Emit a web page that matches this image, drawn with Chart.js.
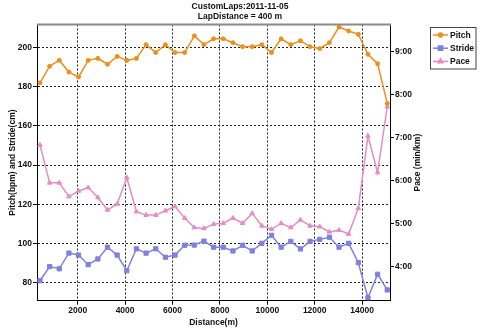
<!DOCTYPE html>
<html>
<head>
<meta charset="utf-8">
<script src="https://cdn.jsdelivr.net/npm/chart.js@4.4.1/dist/chart.umd.min.js"></script>
<style>
  html, body { margin: 0; padding: 0; background: #fff; }
  #wrap { width: 480px; height: 329px; }
</style>
</head>
<body>
<div id="wrap"><canvas id="lapChart" width="480" height="329"></canvas></div>
<script>
// lap end distance (m) and per-lap averages
const distances = [409, 816, 1223, 1630, 2037, 2444, 2851, 3258, 3665, 4072,
  4479, 4886, 5293, 5700, 6107, 6514, 6921, 7328, 7735, 8142,
  8549, 8956, 9363, 9770, 10177, 10584, 10991, 11398, 11805, 12212,
  12619, 13026, 13433, 13840, 14247, 14654, 15061];
// steps per minute
const pitch = [182, 190.5, 193.5, 187.5, 185, 193.5, 194.5, 191.5, 195.5, 193.5,
  194.5, 201.5, 197.5, 201.5, 197.5, 197.5, 206, 201.5, 204.5, 204.5,
  202.5, 200.5, 200.5, 201.5, 197.5, 204.5, 201.5, 203.5, 200.5, 199.5,
  202.5, 210.5, 208.5, 206.8, 196.6, 191.8, 171.5];
// stride length, cm
const stride = [81, 88.2, 87.1, 95.1, 94.1, 89.2, 92.1, 98.1, 94.1, 86.1,
  97.3, 95.1, 97.3, 93, 94.1, 99.1, 99.2, 101.2, 98.1, 98.1,
  96.2, 99.1, 96.2, 100.1, 104.2, 98.1, 101.1, 97.2, 101.1, 102.1,
  103.2, 98.1, 100.1, 90.2, 72.3, 84.3, 76.3];
// pace, min/km (decimal minutes)
const pace = [6.83, 5.95, 5.95, 5.63, 5.76, 5.84, 5.61, 5.32, 5.46, 6.07,
  5.28, 5.20, 5.20, 5.30, 5.40, 5.13, 4.91, 4.89, 4.99, 5.01,
  5.13, 5.01, 5.24, 4.95, 4.87, 5.01, 4.91, 5.09, 4.95, 4.93,
  4.81, 4.85, 4.76, 5.36, 7.04, 6.19, 7.72];

const distanceTicks = [2000, 4000, 6000, 8000, 10000, 12000, 14000];
const leftTicks = [80, 100, 120, 140, 160, 180, 200];
const paceTicks = [4, 5, 6, 7, 8, 9];

const seriesNames = ['Pitch', 'Stride', 'Pace'];
const seriesColors = ['#EC8F1E', '#8080E0', '#E68CC3'];
const seriesMarkers = ['circle', 'rect', 'triangle'];
const seriesRadius = [2, 3, 2.6];
const titleLines = ['CustomLaps:2011-11-05', 'LapDistance = 400 m'];

const FONT_FAMILY = "'Liberation Sans', Arial, sans-serif";
const labelFont = { family: FONT_FAMILY, size: 8.5, weight: 'bold' };

const fmtPace = v => {
  const m = Math.floor(v + 1e-6);
  const s = Math.round((v - m) * 60);
  return m + ':' + String(s).padStart(2, '0');
};

const toPoints = values => values.map((v, i) => ({ x: distances[i], y: v }));
const fixedTicks = list => scale => { scale.ticks = list.map(v => ({ value: v })); };

// titles, frame top, right axis title and boxed legend
const decorPlugin = {
  id: 'decor',
  afterDraw(chart) {
    const { ctx, chartArea } = chart;
    ctx.save();
    ctx.strokeStyle = '#8a8a8a';
    ctx.lineWidth = 2;
    ctx.beginPath();
    ctx.moveTo(chartArea.left, chartArea.top);
    ctx.lineTo(chartArea.right + 1, chartArea.top);
    ctx.stroke();

    ctx.fillStyle = '#111';
    ctx.font = 'bold 8.5px ' + FONT_FAMILY;
    ctx.textAlign = 'center';
    ctx.textBaseline = 'middle';
    ctx.fillText(titleLines[0], 240, 7);
    ctx.fillText(titleLines[1], 240, 17);

    ctx.save();
    ctx.translate(418, (chartArea.top + chartArea.bottom) / 2);
    ctx.rotate(-Math.PI / 2);
    ctx.fillText('Pace (min/km)', 0, 0);
    ctx.restore();

    // legend
    ctx.strokeStyle = '#444';
    ctx.lineWidth = 1;
    ctx.strokeRect(430.5, 27.5, 45.5, 41.5);
    ctx.textAlign = 'left';
    seriesNames.forEach((name, i) => {
      const y = 35 + i * 13.2;
      ctx.strokeStyle = seriesColors[i];
      ctx.lineWidth = 1.5;
      ctx.beginPath();
      ctx.moveTo(433, y);
      ctx.lineTo(448, y);
      ctx.stroke();
      ctx.fillStyle = seriesColors[i];
      Chart.helpers.drawPoint(ctx, {
        pointStyle: seriesMarkers[i], radius: seriesRadius[i], rotation: 0, borderWidth: 1
      }, 440.5, y);
      ctx.fillStyle = '#111';
      ctx.fillText(name, 450, y + 0.5);
    });
    ctx.restore();
  }
};

const gridOpts = {
  color: '#222', lineWidth: 1,
  tickLength: 4, tickColor: '#000', tickBorderDash: []
};

new Chart(document.getElementById('lapChart'), {
  type: 'line',
  data: {
    datasets: [pitch, stride, pace].map((vals, i) => ({
      label: seriesNames[i],
      data: toPoints(vals),
      yAxisID: i === 2 ? 'y2' : 'y',
      borderColor: seriesColors[i],
      backgroundColor: seriesColors[i],
      pointBackgroundColor: seriesColors[i],
      pointBorderColor: seriesColors[i],
      pointStyle: seriesMarkers[i],
      pointRadius: seriesRadius[i],
      pointBorderWidth: 1,
      borderWidth: 1.5,
      tension: 0,
      fill: false
    }))
  },
  options: {
    responsive: false,
    animation: false,
    devicePixelRatio: 1,
    layout: { padding: { top: 24.5, left: 0, right: 0, bottom: 0 } },
    plugins: { legend: { display: false }, title: { display: false }, tooltip: { enabled: false } },
    scales: {
      x: {
        type: 'linear',
        min: 283, max: 15177,
        afterFit: s => { s.height = 28.3; },
        afterBuildTicks: fixedTicks(distanceTicks),
        border: { color: '#000', width: 1, dash: [2, 2] },
        grid: gridOpts,
        ticks: {
          padding: 1, color: '#111', font: labelFont, maxRotation: 0, autoSkip: false,
          callback: v => String(v)
        },
        title: {
          display: true, text: 'Distance(m)', color: '#111', font: labelFont,
          padding: { top: 0, bottom: 1.2 }
        }
      },
      y: {
        position: 'left',
        min: 70.8, max: 211.8,
        afterFit: s => { s.width = 37; },
        afterBuildTicks: fixedTicks(leftTicks),
        border: { color: '#000', width: 1, dash: [2, 2] },
        grid: gridOpts,
        ticks: { padding: 1, color: '#111', font: labelFont, autoSkip: false },
        title: {
          display: true, text: 'Pitch(bpm) and Stride(cm)', color: '#111', font: labelFont,
          padding: { top: 7.2, bottom: 0 }
        }
      },
      y2: {
        position: 'right',
        min: 3.209, max: 9.633,
        afterFit: s => { s.width = 90; },
        afterBuildTicks: fixedTicks(paceTicks),
        border: { color: '#000', width: 1 },
        grid: { drawOnChartArea: false, tickLength: 4, tickColor: '#000' },
        ticks: {
          padding: 1, color: '#111', font: labelFont, autoSkip: false,
          callback: v => fmtPace(v)
        }
      }
    }
  },
  plugins: [decorPlugin]
});
</script>
</body>
</html>
